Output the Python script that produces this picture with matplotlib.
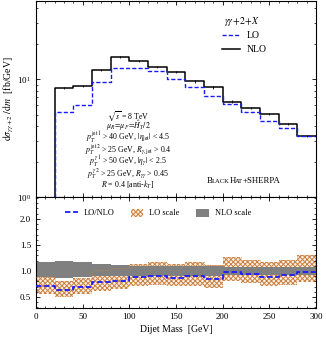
import numpy as np
import matplotlib
matplotlib.use("Agg")
import matplotlib.pyplot as plt
from matplotlib.patches import Patch
from matplotlib.lines import Line2D

plt.rcParams['font.family'] = ['Liberation Serif', 'DejaVu Serif']
plt.rcParams['mathtext.fontset'] = 'stix'
plt.rcParams['hatch.linewidth'] = 0.7

# === Dados ===
bin_edges = np.arange(0, 320, 20)
nlo = [0.6, 8.4, 8.8, 11.9, 15.3, 14.3, 12.7, 11.5, 9.55, 8.5, 6.45, 5.65, 5.05, 4.18, 3.3]
nlo_err = [0.02, 0.15, 0.15, 0.2, 0.3, 0.3, 0.2, 0.2, 0.2, 0.2, 0.15, 0.12, 0.1, 0.08, 0.06]
lo = [0.42, 5.25, 6.08, 9.5, 12.5, 12.5, 11.7, 10.0, 8.6, 7.26, 6.2, 5.3, 4.4, 3.87, 3.28]

ratio = [0.705, 0.63, 0.686, 0.795, 0.814, 0.878, 0.904, 0.872, 0.897, 0.853, 0.974, 0.94, 0.885, 0.917, 0.99]
nlo_up = [1.167, 1.19, 1.167, 1.135, 1.115, 1.09, 1.09, 1.09, 1.09, 1.09, 1.07, 1.07, 1.07, 1.07, 1.07]
nlo_dn = [0.885, 0.86, 0.88, 0.91, 0.91, 0.91, 0.91, 0.91, 0.91, 0.91, 0.93, 0.93, 0.93, 0.93, 0.93]
lo_up = [0.885, 0.81, 0.87, 1.025, 1.05, 1.135, 1.167, 1.135, 1.17, 1.115, 1.27, 1.22, 1.167, 1.205, 1.31]
lo_dn = [0.565, 0.5, 0.55, 0.62, 0.66, 0.72, 0.73, 0.705, 0.72, 0.68, 0.8, 0.77, 0.705, 0.73, 0.78]

BLUE = '#1a1aff'
HATCH = '#cc8040'
DASH = (0, (3, 1.5))


def step(vals):
    return np.append(vals, vals[-1])


centers = 0.5 * (bin_edges[:-1] + bin_edges[1:])

fig = plt.figure(figsize=(3.26, 3.45), dpi=100)
W, H = 326, 345
ax1 = fig.add_axes([36 / W, (H - 197) / H, 280 / W, 196 / H])
ax2 = fig.add_axes([36 / W, (H - 308) / H, 280 / W, 111 / H], sharex=ax1)


def ay(px):
    # pixel da figura -> fração do eixo superior
    return 1 - (px - 1) / 196


# === Painel superior ===
ax1.step(bin_edges, step(nlo), where='post', color='black', lw=1.1)
ax1.errorbar(centers, nlo, yerr=nlo_err, fmt='none', ecolor='black', lw=0.6)
ax1.step(bin_edges, step(lo), where='post', color=BLUE, lw=1.0, ls=DASH)
ax1.set_yscale('log')
ax1.set_ylim(1, 46)
ax1.set_xlim(0, 300)
ax1.set_ylabel(r'$\mathrm{d}\sigma_{\gamma\gamma+2}\,/\,\mathrm{d}m$  [fb/GeV]', fontsize=7)
ax1.yaxis.set_label_coords(-0.072, 0.5)

leg_h = [Line2D([], [], color=BLUE, lw=1.0, ls=DASH),
         Line2D([], [], color='black', lw=1.1)]
ax1.legend(leg_h, ['LO', 'NLO'], loc='upper left', bbox_to_anchor=(0.664, ay(31)),
           borderaxespad=0, borderpad=0, frameon=False, fontsize=7,
           handlelength=1.85, handletextpad=0.7, labelspacing=0.55)
ax1.text((224 - 36) / 280, ay(22), r'$\gamma\gamma\!+\!2\!+\!X$', transform=ax1.transAxes,
         fontsize=7, ha='left', va='center')

lines = [r'$\sqrt{s}$ = 8 TeV',
         r'$\mu_R\!=\!\mu_F\!=\!\hat{H}_T/2$',
         r'$p_T^{\rm jet\,1}$ > 40 GeV, $|\eta_{\rm jet}|$ < 4.5',
         r'$p_T^{\rm jet\,2}$ > 25 GeV, $R_{\gamma,\rm jet}$ > 0.4',
         r'$p_T^{\gamma\,1}$ > 50 GeV, $|\eta_\gamma|$ < 2.5',
         r'$p_T^{\gamma\,2}$ > 25 GeV, $R_{\gamma\gamma}$ > 0.45',
         r'$R$ = 0.4 [anti-$k_T$]']
ys = [116, 125.5, 137.5, 149.5, 161.5, 173.5, 184.5]
for s, y in zip(lines, ys):
    ax1.text((128 - 36) / 280, ay(y), s, transform=ax1.transAxes, fontsize=5.7,
             ha='center', va='center')

# BlackHat+Sherpa em versalete
parts = [('B', 6.3), ('LACK', 4.8), ('H', 6.3), ('AT', 4.8), ('+SHERPA', 6.3)]
renderer = fig.canvas.get_renderer()
xpix = 207
for s, fs in parts:
    t = fig.text(xpix / W, 1 - 183 / H, s, fontsize=fs, ha='left', va='baseline')
    bb = t.get_window_extent(renderer=renderer)
    xpix += bb.width - 0.6

# === Painel inferior ===
ax2.fill_between(bin_edges, step(lo_dn), step(lo_up), step='post',
                 facecolor='#fbf0e6', edgecolor=HATCH, hatch='xxxxxxx', lw=0, zorder=1)
ax2.fill_between(bin_edges, step(nlo_dn), step(nlo_up), step='post',
                 facecolor='#808080', edgecolor='none', lw=0, zorder=2)
ax2.step(bin_edges, step(lo_up), where='post', color=HATCH, lw=0.6, ls=':', zorder=3)
ax2.step(bin_edges, step(ratio), where='post', color=BLUE, lw=1.3, ls=DASH, zorder=4)
ax2.set_ylim(0.29, 2.42)
ax2.set_yticks([0.5, 1.0, 1.5, 2.0])
ax2.set_yticklabels(['0.5', '1.0', '1.5', '2.0'])
ax2.set_xlabel('Dijet Mass  [GeV]', fontsize=7, labelpad=3)

hl = [Line2D([], [], color=BLUE, lw=1.3, ls=DASH),
      Patch(facecolor='#fbf0e6', edgecolor=HATCH, hatch='xxxxxxx', lw=0),
      Patch(facecolor='#808080', edgecolor='none')]
ax2.legend(hl, ['LO/NLO', 'LO scale', 'NLO scale'], loc='center', ncol=3,
           frameon=False, fontsize=6, handlelength=1.5, handleheight=1.1,
           columnspacing=2.0, handletextpad=0.7,
           bbox_to_anchor=((158 - 36) / 280, 1 - (213 - 197) / 111))

for ax in (ax1, ax2):
    ax.tick_params(which='both', direction='in', top=True, right=True, labelsize=6.5)
    ax.tick_params(which='major', length=3, width=0.6)
    ax.tick_params(which='minor', length=1.5, width=0.5)
    ax.set_xticks(np.arange(0, 301, 50))
    ax.set_xticks(np.arange(0, 301, 10), minor=True)
    for sp in ax.spines.values():
        sp.set_linewidth(0.8)
ax2.set_yticks(np.arange(0.3, 2.41, 0.1), minor=True)
ax1.tick_params(labelbottom=False)

fig.savefig('out.png', dpi=100)
